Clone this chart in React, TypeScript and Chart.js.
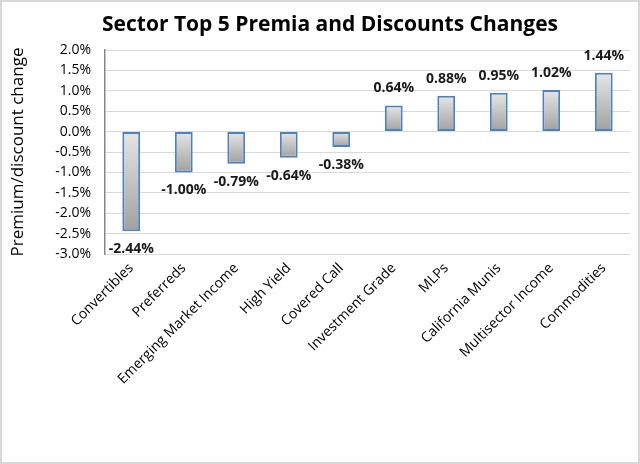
import React, { useEffect, useRef } from "react";
import { Chart, registerables } from "chart.js";

Chart.register(...registerables);

const categories = [
  "Convertibles",
  "Preferreds",
  "Emerging Market Income",
  "High Yield",
  "Covered Call",
  "Investment Grade",
  "MLPs",
  "California Munis",
  "Multisector Income",
  "Commodities",
];
const changes = [-2.44, -1.0, -0.79, -0.64, -0.38, 0.64, 0.88, 0.95, 1.02, 1.44];
const chartTitle = "Sector Top 5 Premia and Discounts Changes";
const yAxisTitle = "Premium/discount change";

const FONT = "'Open Sans', 'DejaVu Sans', sans-serif";

const framePlugin = {
  id: "frame",
  beforeDraw(chart: any) {
    const { ctx, width, height } = chart;
    ctx.save();
    ctx.fillStyle = "#ffffff";
    ctx.fillRect(0, 0, width, height);
    ctx.strokeStyle = "#d9d9d9";
    ctx.lineWidth = 2;
    ctx.strokeRect(1, 1, width - 2, height - 2);
    ctx.fillStyle = "#000000";
    ctx.font = `bold 21px ${FONT}`;
    ctx.textAlign = "center";
    ctx.textBaseline = "alphabetic";
    ctx.fillText(chartTitle, 330, 31);
    ctx.restore();
  },
};

const labelPlugin = {
  id: "barLabels",
  afterDatasetsDraw(chart: any) {
    const { ctx } = chart;
    const meta = chart.getDatasetMeta(0);
    const data = chart.data.datasets[0].data as number[];
    ctx.save();
    ctx.font = `bold 14px ${FONT}`;
    ctx.fillStyle = "#1a1a1a";
    ctx.textAlign = "center";
    ctx.textBaseline = "middle";
    meta.data.forEach((bar: any, i: number) => {
      const v = data[i];
      const y = v < 0 ? bar.y + 18 : bar.y - 17;
      ctx.fillText(v.toFixed(2) + "%", bar.x, y);
    });
    ctx.restore();
  },
};

export default function App() {
  const ref = useRef<HTMLCanvasElement>(null);
  useEffect(() => {
    if (!ref.current) return;
    const chart = new Chart(ref.current, {
      type: "bar",
      data: {
        labels: categories,
        datasets: [
          {
            data: changes,
            backgroundColor: (c: any) => {
              const chart = c.chart;
              const area = chart.chartArea;
              const ys = chart.scales?.y;
              if (!area || !ys || c.raw === undefined) return "#c8c8c8";
              const y0 = ys.getPixelForValue(0);
              const y1 = ys.getPixelForValue(c.raw);
              const top = Math.min(y0, y1);
              const bottom = Math.max(y0, y1);
              if (!isFinite(top) || bottom - top < 1) return "#c8c8c8";
              const g = chart.ctx.createLinearGradient(0, top, 0, bottom);
              g.addColorStop(0, "#e6e6e6");
              g.addColorStop(1, "#a0a0a0");
              return g;
            },
            borderColor: "#4f81bd",
            borderWidth: 2,
            borderSkipped: false,
            barPercentage: 0.34,
            categoryPercentage: 1,
          },
        ],
      },
      options: {
        responsive: false,
        animation: false,
        layout: { padding: { top: 50, right: 10, bottom: 0, left: 0 } },
        plugins: {
          legend: { display: false },
          tooltip: { enabled: false },
          title: { display: false },
        },
        scales: {
          x: {
            grid: { display: false, drawTicks: false },
            border: { display: false },
            ticks: {
              minRotation: 45,
              maxRotation: 45,
              autoSkip: false,
              color: "#000000",
              padding: 6,
              font: { family: FONT, size: 14 },
            },
            afterFit: (s: any) => {
              s.height = 210;
            },
          },
          y: {
            min: -3,
            max: 2,
            ticks: {
              stepSize: 0.5,
              color: "#000000",
              padding: 14,
              font: { family: FONT, size: 14 },
              callback: (v: any) => Number(v).toFixed(1) + "%",
            },
            grid: { color: "#d9d9d9", lineWidth: 1, drawTicks: false },
            border: { display: true, color: "#868686", width: 1.5 },
            title: {
              display: true,
              text: yAxisTitle,
              color: "#000000",
              font: { family: FONT, size: 17 },
              padding: { top: 8, bottom: 4 },
            },
            afterFit: (s: any) => {
              s.width = 105;
            },
          },
        },
      },
      plugins: [framePlugin, labelPlugin],
    });
    return () => chart.destroy();
  }, []);
  return (
    <div style={{ position: "fixed", left: 0, top: 0, width: 640, height: 464 }}>
      <canvas ref={ref} width={640} height={464} style={{ width: 640, height: 464, display: "block" }} />
    </div>
  );
}
